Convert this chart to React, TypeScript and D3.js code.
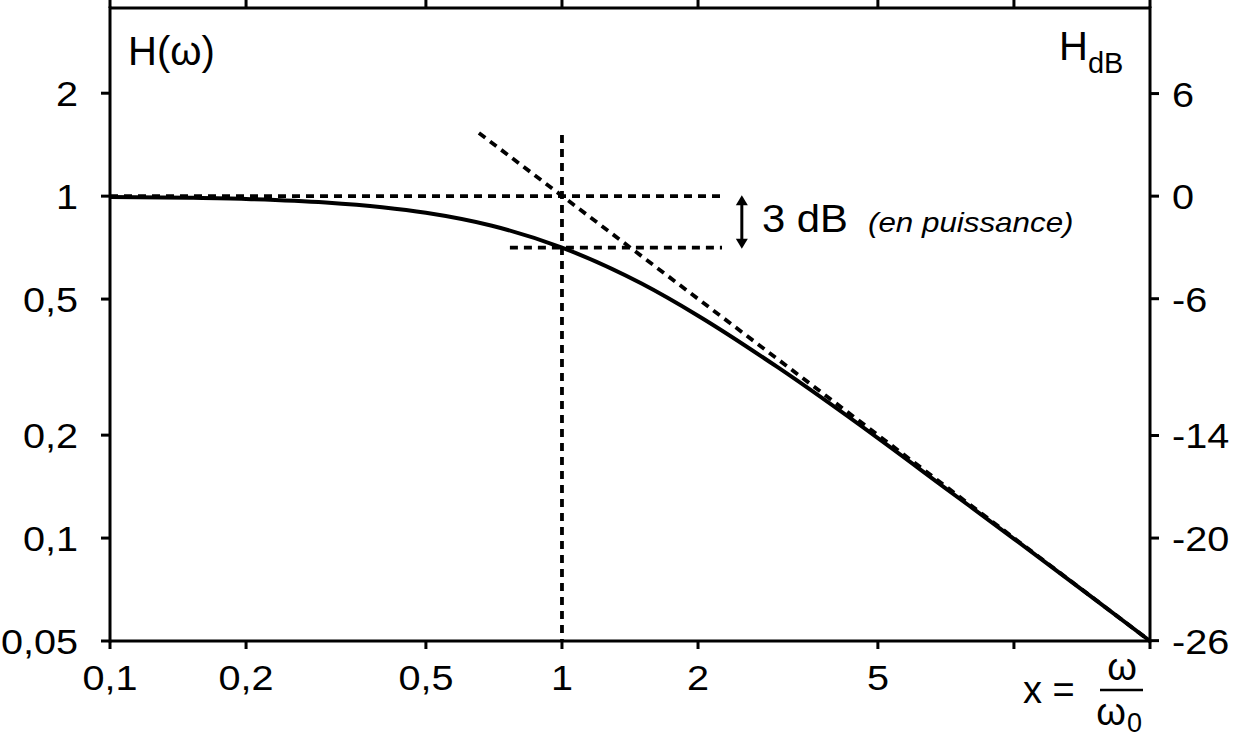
import React from "react";
import * as d3 from "d3";

// Bottom / top axis ticks (x = ω/ω0)
const xTicks = [0.1, 0.2, 0.5, 1, 2, 5, 10, 20];
const xTickLabels = ["0,1", "0,2", "0,5", "1", "2", "5", "", ""];
// Left axis ticks H(ω)
const yTicks = [2, 1, 0.5, 0.2, 0.1, 0.05];
const yTickLabels = ["2", "1", "0,5", "0,2", "0,1", "0,05"];
// Right axis ticks in dB
const dbTicks = [6, 0, -6, -14, -20, -26];
const dbTickLabels = ["6", "0", "-6", "-14", "-20", "-26"];

// Response curve
const curveX = [0.1, 0.15, 0.2, 0.3, 0.4, 0.5, 0.7, 1, 1.5, 2, 3, 5, 7, 10, 15, 20];
const curveH = [0.995, 0.989, 0.981, 0.958, 0.928, 0.894, 0.819, 0.707, 0.555, 0.447, 0.316, 0.196, 0.141, 0.0995, 0.0666, 0.05];

// Asymptote (dashed)
const asymX = [0.655, 20];
const asymH = [1.53, 0.05];

// Reference dashed lines
const hLine1 = { x0: 0.1, x1: 2.26, h: 1 };
const hLine2 = { x0: 0.767, x1: 2.26, h: 0.707 };
const vLine = { x: 1, h0: 1.51, h1: 0.05 };
const arrowX = 2.5;

const W = 1233;
const H = 737;
const FONT = "'Liberation Sans', Arial, Helvetica, sans-serif";
const SX = 1.1;

function T(props: {
  x: number;
  y: number;
  size: number;
  anchor?: string;
  italic?: boolean;
  dy?: string;
  children: React.ReactNode;
}) {
  return (
    <g transform={`translate(${props.x},${props.y}) scale(${SX},1)`}>
      <text
        x={0}
        y={0}
        dy={props.dy}
        fontSize={props.size}
        textAnchor={props.anchor || "start"}
        fontStyle={props.italic ? "italic" : "normal"}
        fill="#000"
      >
        {props.children}
      </text>
    </g>
  );
}

export default function App() {
  const x = d3.scaleLog().domain([0.1, 20]).range([110, 1150]);
  const y = d3.scaleLog().domain([0.05, 3.55]).range([641, 8]);
  const yDb = d3
    .scaleLinear()
    .domain([20 * Math.log10(0.05), 20 * Math.log10(3.55)])
    .range([641, 8]);

  const line = d3
    .line<number>()
    .x((_, i) => x(curveX[i]))
    .y((d) => y(d))
    .curve(d3.curveMonotoneX);
  const curvePath = line(curveH) || "";

  const left = x(0.1);
  const right = x(20);
  const top = y(3.55);
  const bottom = y(0.05);
  const dash = "8 6";
  const dw = 3.8;
  const sw = 3;

  const ax = x(arrowX);
  const ay0 = y(1);
  const ay1 = y(0.707);

  return (
    <svg
      width={W}
      height={H}
      style={{ position: "absolute", left: 0, top: 0, background: "#fff" }}
      fontFamily={FONT}
    >
      <rect x={0} y={0} width={W} height={H} fill="#fff" />
      {/* frame */}
      <line x1={left} y1={top} x2={right} y2={top} stroke="#000" strokeWidth={sw} />
      <line x1={left} y1={bottom} x2={right} y2={bottom} stroke="#000" strokeWidth={sw} />
      <line x1={left} y1={top - 1.5} x2={left} y2={bottom + 1.5} stroke="#000" strokeWidth={sw} />
      <line x1={right} y1={top - 1.5} x2={right} y2={bottom + 1.5} stroke="#000" strokeWidth={sw} />

      {/* x ticks */}
      {xTicks.map((t, i) => (
        <g key={"xt" + i}>
          <line x1={x(t)} x2={x(t)} y1={bottom} y2={bottom + 8} stroke="#000" strokeWidth={sw} />
          <line x1={x(t)} x2={x(t)} y1={top} y2={top - 10} stroke="#000" strokeWidth={sw} />
          {xTickLabels[i] && (
            <T x={x(t)} y={690} size={36} anchor="middle">
              {xTickLabels[i]}
            </T>
          )}
        </g>
      ))}

      {/* left ticks */}
      {yTicks.map((t, i) => (
        <g key={"yt" + i}>
          <line x1={left - 9} x2={left} y1={y(t)} y2={y(t)} stroke="#000" strokeWidth={sw} />
          <T x={78} y={y(t)} dy="0.36em" size={36} anchor="end">
            {yTickLabels[i]}
          </T>
        </g>
      ))}

      {/* right ticks */}
      {dbTicks.map((t, i) => (
        <g key={"db" + i}>
          <line x1={right} x2={right + 9} y1={yDb(t)} y2={yDb(t)} stroke="#000" strokeWidth={sw} />
          <T x={1172} y={yDb(t)} dy="0.36em" size={36}>
            {dbTickLabels[i]}
          </T>
        </g>
      ))}

      {/* dashed references */}
      <line x1={x(hLine1.x0)} x2={x(hLine1.x1)} y1={y(hLine1.h)} y2={y(hLine1.h)} stroke="#000" strokeWidth={dw} strokeDasharray={dash} />
      <line x1={x(hLine2.x0)} x2={x(hLine2.x1)} y1={y(hLine2.h)} y2={y(hLine2.h)} stroke="#000" strokeWidth={dw} strokeDasharray={dash} />
      <line x1={x(vLine.x)} x2={x(vLine.x)} y1={y(vLine.h0)} y2={y(vLine.h1)} stroke="#000" strokeWidth={dw} strokeDasharray={dash} />
      <line x1={x(asymX[0])} y1={y(asymH[0])} x2={x(asymX[1])} y2={y(asymH[1])} stroke="#000" strokeWidth={dw} strokeDasharray={dash} />

      {/* curve */}
      <path d={curvePath} fill="none" stroke="#000" strokeWidth={4} />

      {/* 3 dB arrow */}
      <line x1={ax} x2={ax} y1={ay0 + 6} y2={ay1 - 6} stroke="#000" strokeWidth={3} />
      <path d={`M${ax - 6},${ay0 + 9} L${ax},${ay0 - 1} L${ax + 6},${ay0 + 9} Z`} fill="#000" />
      <path d={`M${ax - 6},${ay1 - 9} L${ax},${ay1 + 1} L${ax + 6},${ay1 - 9} Z`} fill="#000" />
      <T x={762} y={232} size={38}>3 dB</T>
      <T x={868} y={232} size={28.5} italic>(en puissance)</T>

      {/* axis titles */}
      <text x={128} y={65} fontSize={40} fill="#000">H(ω)</text>
      <text x={1059} y={60} fontSize={40} fill="#000">
        H<tspan fontSize={29} dy={13}>dB</tspan>
      </text>
      <text x={1023} y={703} fontSize={38} fill="#000">x =</text>
      <text x={1122} y={680} fontSize={38} textAnchor="middle" fill="#000">ω</text>
      <line x1={1100} x2={1143} y1={690} y2={690} stroke="#000" strokeWidth={2.5} />
      <text x={1111} y={725} fontSize={38} textAnchor="middle" fill="#000">
        ω
      </text>
      <text x={1127} y={732} fontSize={27} fill="#000">0</text>
    </svg>
  );
}
